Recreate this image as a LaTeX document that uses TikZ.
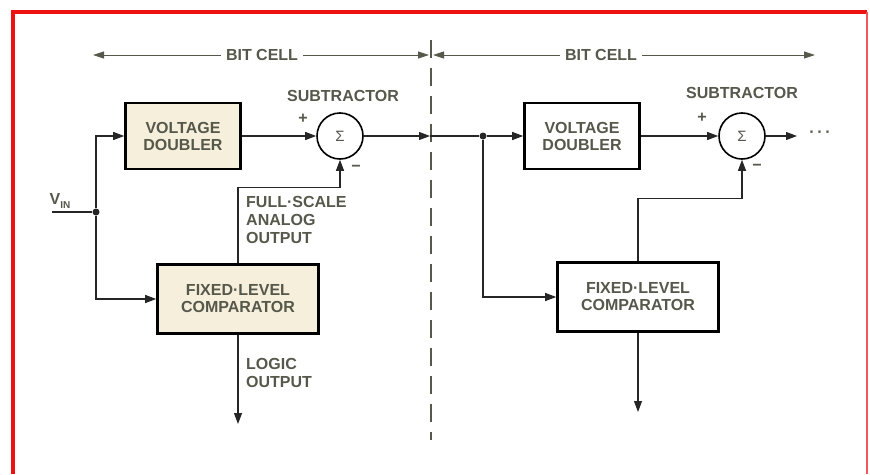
\documentclass[tikz,border=0pt]{standalone}
\usepackage{fontspec}
\setmainfont{Liberation Sans}
\usetikzlibrary{arrows.meta}
\definecolor{ink}{HTML}{55584A}
\definecolor{boxfill}{HTML}{F6EFDC}
\definecolor{framered}{HTML}{EE1111}
\begin{document}
\begin{tikzpicture}[x=1pt, y=-1pt,
    lbl/.style={text=ink, font=\fontsize{16}{18}\selectfont\bfseries, inner sep=0pt, align=left},
    blockbox/.style={draw, line width=2.6pt, text=ink, font=\fontsize{16}{17}\selectfont\bfseries, align=center, minimum width=115pt, minimum height=66pt},
    sumnode/.style={circle, draw, line width=1.6pt, minimum size=46pt, inner sep=0pt, text=ink, font=\fontsize{15}{15}\selectfont},
    sig/.style={-{Triangle[length=11pt,width=8pt]}, line width=1.1pt, draw=black!85},
    span/.style={-{Triangle[length=11pt,width=7pt]}, line width=0.8pt, draw=ink},
    dot/.style={circle, fill=black!85, inner sep=0pt, minimum size=7pt}]
        \useasboundingbox (0,0) rectangle (870,474);
        \draw[framered, line width=4pt] (13,474) -- (13,12) -- (867,12);
        \draw[framered!70, line width=2pt] (867,12) -- (867,474);
        \draw[ink, line width=2pt, dash pattern=on 18pt off 10pt] (431,40) -- (431,440);

        \node[lbl, inner sep=5pt] (bc1) at (262,55) {BIT CELL};
        \coordinate (bc1l) at (93,55);
        \coordinate (bc1r) at (429,55);
        \draw[span] (bc1) -- (bc1l);
        \draw[span] (bc1) -- (bc1r);
        \node[lbl, inner sep=5pt] (bc2) at (601,55) {BIT CELL};
        \coordinate (bc2l) at (433,55);
        \coordinate (bc2r) at (815,55);
        \draw[span] (bc2) -- (bc2l);
        \draw[span] (bc2) -- (bc2r);

        \node[lbl] (vinl) at (60,201) {V\raisebox{-0.45ex}{\fontsize{10}{10}\selectfont IN}};
        \coordinate (vin) at (52,212);
        \node[dot] (j1) at (96,212) {};
        \node[blockbox, fill=boxfill] (vd1) at (183,136) {VOLTAGE\\DOUBLER};
        \node[sumnode] (sub1) at (340,136) {Σ};
        \node[lbl] (st1) at (343,96) {SUBTRACTOR};
        \node[lbl] (pl1) at (303,119) {+};
        \node[lbl] (mi1) at (356,168) {−};
        \node[blockbox, fill=boxfill, minimum width=161pt, minimum height=69pt] (flc1) at (238,299) {FIXED·LEVEL\\COMPARATOR};
        \node[lbl, anchor=west] (fsa) at (246,220) {FULL·SCALE\\ANALOG\\OUTPUT};
        \node[lbl, anchor=west] (lgo) at (246,373) {LOGIC\\OUTPUT};
        \coordinate (cell) at (430,136);
        \coordinate (lo1) at (238,424);
        \draw[line width=1.1pt, draw=black!85] (vin) -- (j1);
        \draw[sig] (j1) |- (vd1.west);
        \draw[sig] (j1) |- (flc1.west);
        \draw[sig] (vd1) -- (sub1);
        \draw[sig] (sub1) -- (cell);
        \draw[sig] (flc1.north) -- ++(0,-76) -| (sub1.south);
        \draw[sig] (flc1.south) -- (lo1);

        \node[dot] (j2) at (483,136) {};
        \node[blockbox] (vd2) at (582,136) {VOLTAGE\\DOUBLER};
        \node[sumnode] (sub2) at (742,136) {Σ};
        \node[lbl] (st2) at (742,93) {SUBTRACTOR};
        \node[lbl] (pl2) at (702,118) {+};
        \node[lbl] (mi2) at (757,167) {−};
        \node[blockbox, minimum width=161pt, minimum height=69pt] (flc2) at (638,297) {FIXED·LEVEL\\COMPARATOR};
        \node[lbl] (more) at (820,134) {·\,·\,·};
        \coordinate (nx) at (797,136);
        \coordinate (lo2) at (638,412);
        \draw[line width=1.1pt, draw=black!85] (cell) -- (j2);
        \draw[sig] (j2) -- (vd2);
        \draw[sig] (j2) |- (flc2.west);
        \draw[sig] (vd2) -- (sub2);
        \draw[sig] (sub2) -- (nx);
        \draw[sig] (flc2.north) -- ++(0,-63) -| (sub2.south);
        \draw[sig] (flc2.south) -- (lo2);
    \end{tikzpicture}
\end{document}
